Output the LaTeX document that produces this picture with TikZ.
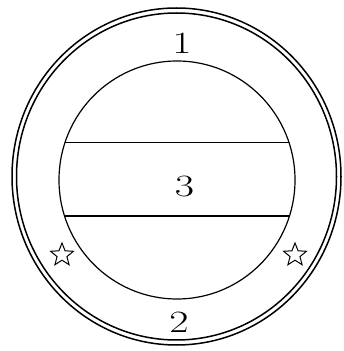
\documentclass[tikz,border=0pt]{standalone}
\usetikzlibrary{shapes.geometric}
\begin{document}
\begin{tikzpicture}[x=1pt,y=1pt,
  ring/.style={line width=1.5pt},
  inner/.style={line width=1.2pt},
  chord/.style={line width=1.1pt},
  digit/.style={inner sep=0pt,font=\fontsize{31}{35}\selectfont,xscale=1.35},
  starmark/.style={star,star points=5,star point ratio=2.3,minimum size=24pt,inner sep=0pt,draw,line width=1pt}]
\useasboundingbox (0,0) rectangle (343,351);
\coordinate (oc) at (176.5,174.5);
\coordinate (ic) at (177,171);
\draw[ring] (oc) ellipse [x radius=164.5, y radius=168.5];
\draw[ring] (oc) ellipse [x radius=160, y radius=163.5];
\draw[inner] (ic) ellipse [x radius=118, y radius=119];
\coordinate (t1) at (65,208.5);
\coordinate (t2) at (289,208.5);
\coordinate (b1) at (65,135);
\coordinate (b2) at (289,135);
\draw[chord] (t1) -- (t2);
\draw[chord] (b1) -- (b2);
\node[digit] (n1) at (182,308) {1};
\node[digit] (n3) at (184.5,164) {3};
\node[digit] (n2) at (179,29) {2};
\node[starmark] (s1) at (62,96) {};
\node[starmark] (s2) at (295,96) {};
\end{tikzpicture}
\end{document}
